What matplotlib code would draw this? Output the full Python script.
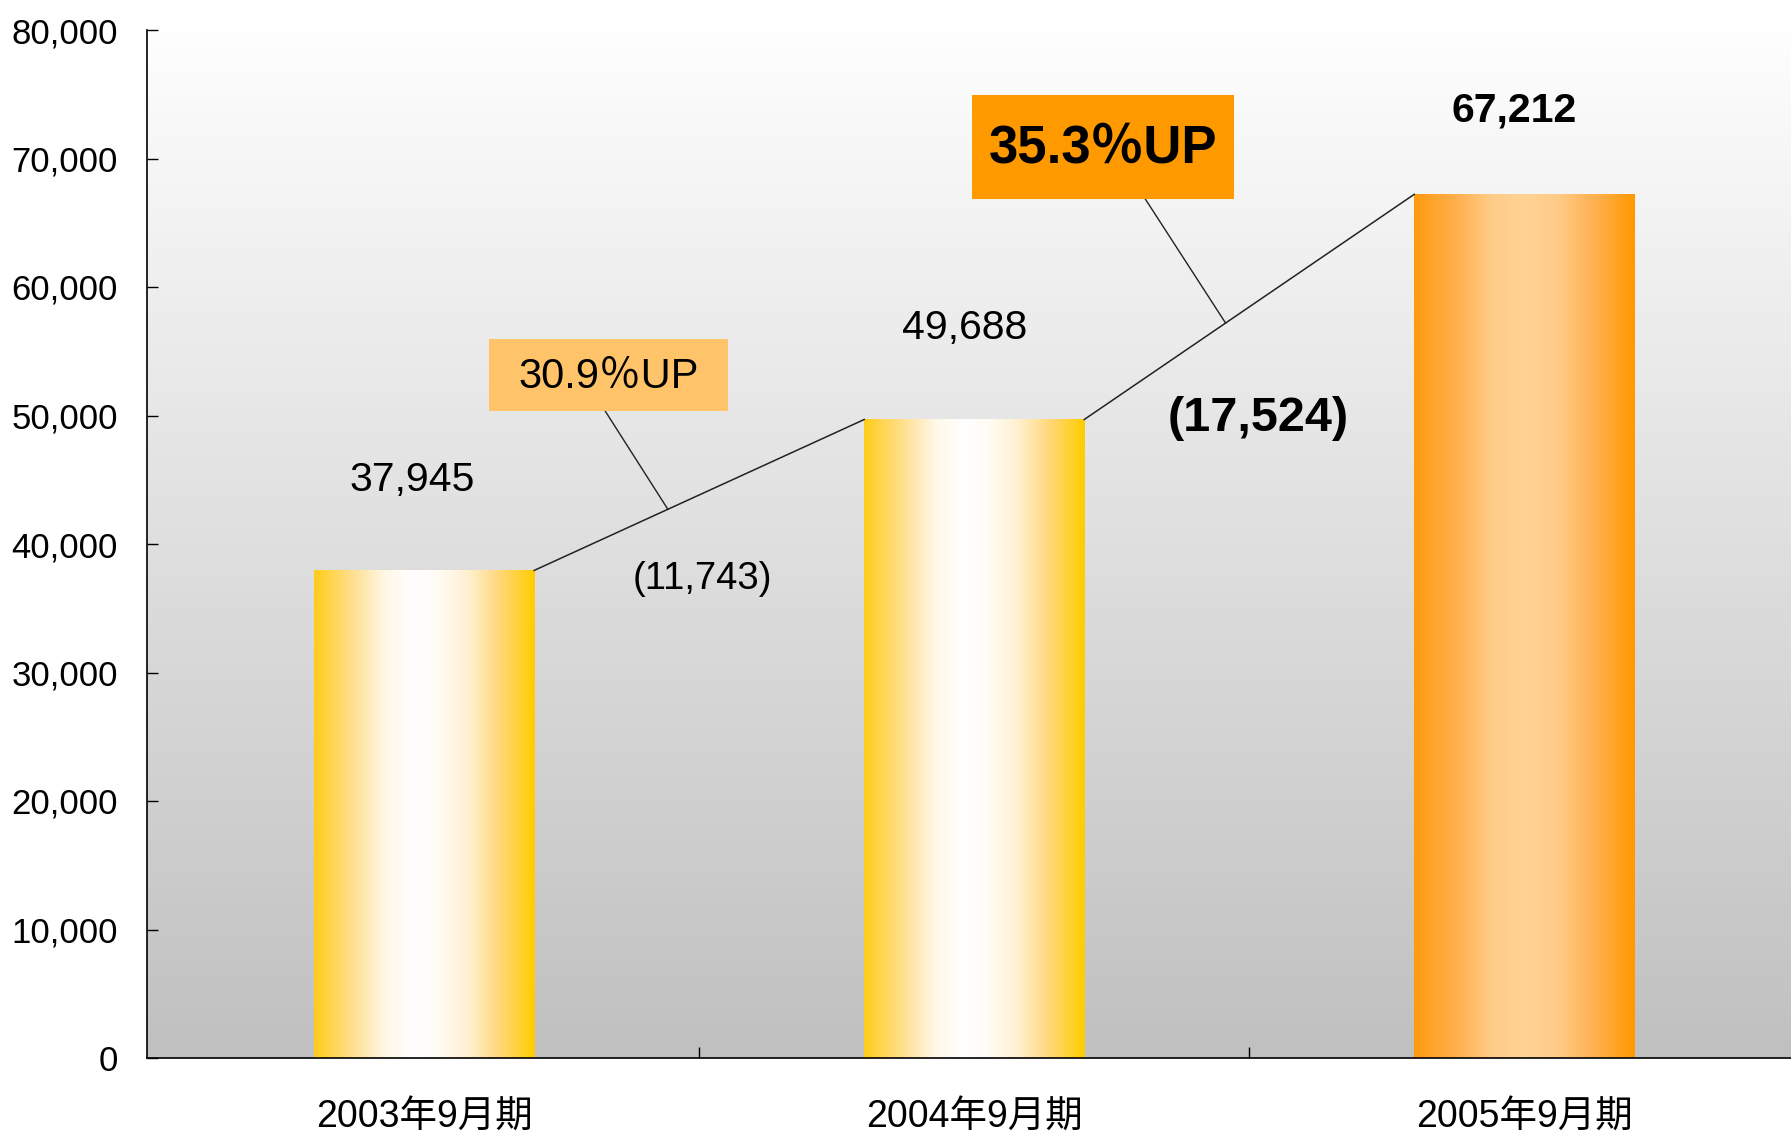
import numpy as np
import matplotlib
matplotlib.use('Agg')
import matplotlib.pyplot as plt
from matplotlib.colors import LinearSegmentedColormap
from matplotlib.patches import Rectangle

plt.rcParams['font.family'] = ['Liberation Sans', 'Noto Sans CJK JP']

# data
periods = ['2003年9月期', '2004年9月期', '2005年9月期']
sales = [37945, 49688, 67212]
increase = ['(11,743)', '(17,524)']
growth = ['30.9％UP', '35.3％UP']
value_labels = ['37,945', '49,688', '67,212']

fig = plt.figure(figsize=(17.91, 11.36), dpi=100)
ax = fig.add_axes([147 / 1791, 78 / 1136, 1644 / 1791, 1028 / 1136])

x = np.arange(len(sales))
bar_w = 0.4

# background: white at top fading to grey at the bottom
bg = LinearSegmentedColormap.from_list('bg', ['#c0c0c0', '#fefefe'])
ax.imshow(np.linspace(0, 1, 256).reshape(-1, 1), cmap=bg, origin='lower',
          extent=(0, 1, 0, 1), transform=ax.transAxes, aspect='auto', zorder=0)

yellow = LinearSegmentedColormap.from_list('yel', [
    (0.0, '#ffcc1a'), (0.17, '#ffdf8c'), (0.32, '#fff8e8'), (0.45, '#ffffff'),
    (0.56, '#fffcf5'), (0.7, '#fff0d0'), (0.84, '#ffd87a'), (1.0, '#ffcc00')])
orange = LinearSegmentedColormap.from_list('org', [
    (0.0, '#ff9a10'), (0.2, '#ffb050'), (0.35, '#ffcc88'), (0.5, '#ffd394'),
    (0.65, '#ffcc88'), (0.82, '#ffb050'), (1.0, '#ff9900')])
cmaps = [yellow, yellow, orange]

bars = ax.bar(x, sales, width=bar_w, color='none', edgecolor='none', zorder=2)
grad = np.linspace(0, 1, 256).reshape(1, -1)
for b, cm in zip(bars, cmaps):
    x0, w, h = b.get_x(), b.get_width(), b.get_height()
    ax.imshow(grad, cmap=cm, extent=(x0, x0 + w, 0, h), aspect='auto', zorder=2)

# line joining the bar tops
for i in range(len(sales) - 1):
    ax.plot([x[i] + bar_w / 2, x[i + 1] - bar_w / 2], [sales[i], sales[i + 1]],
            color='#222222', lw=1.1, zorder=3)

ax.set_xlim(-0.504, 2.485)
ax.set_ylim(0, 80000)

# value labels
ax.text(-0.022, 45000, value_labels[0], ha='center', va='center', fontsize=29.5)
ax.text(0.983, 56800, value_labels[1], ha='center', va='center', fontsize=29.5)
ax.text(1.982, 73700, value_labels[2], ha='center', va='center', fontsize=29.5,
        fontweight='bold')

# increase amounts
ax.text(0.506, 37250, increase[0], ha='center', va='center', fontsize=27.5)
ax.text(1.517, 49800, increase[1], ha='center', va='center', fontsize=35,
        fontweight='bold')

# growth boxes with leader lines
ax.add_patch(Rectangle((0.118, 50350), 0.434, 5600, facecolor='#ffc46a',
                       edgecolor='none', zorder=4))
ax.text(0.335, 53000, growth[0], ha='center', va='center', fontsize=30, zorder=5)
ax.add_patch(Rectangle((0.996, 66850), 0.476, 8090, facecolor='#ff9900',
                       edgecolor='none', zorder=4))
ax.text(1.234, 70750, growth[1], ha='center', va='center', fontsize=38,
        fontweight='bold', zorder=5)

def on_line(i, xp):
    x1, x2 = x[i] + bar_w / 2, x[i + 1] - bar_w / 2
    return sales[i] + (xp - x1) / (x2 - x1) * (sales[i + 1] - sales[i])

ax.plot([0.329, 0.443], [50350, on_line(0, 0.443)], color='#222222', lw=1, zorder=3)
ax.plot([1.311, 1.457], [66850, on_line(1, 1.457)], color='#222222', lw=1, zorder=3)

# axes styling
for s in ['top', 'right']:
    ax.spines[s].set_visible(False)
ax.spines['left'].set_linewidth(1.2)
ax.spines['bottom'].set_linewidth(1.2)
ax.set_yticks(np.arange(0, 80001, 10000))
ax.set_yticklabels([f'{v:,}' for v in range(0, 80001, 10000)], fontsize=25)
ax.tick_params(axis='y', direction='in', length=8, width=1, pad=21)
ax.set_xticks(x)
ax.set_xticklabels(periods, fontsize=27)
ax.tick_params(axis='x', which='major', length=0, pad=30)
ax.set_xticks([0.5, 1.5], minor=True)
ax.tick_params(axis='x', which='minor', direction='in', length=8, width=1)

fig.savefig('out.png', dpi=100)
